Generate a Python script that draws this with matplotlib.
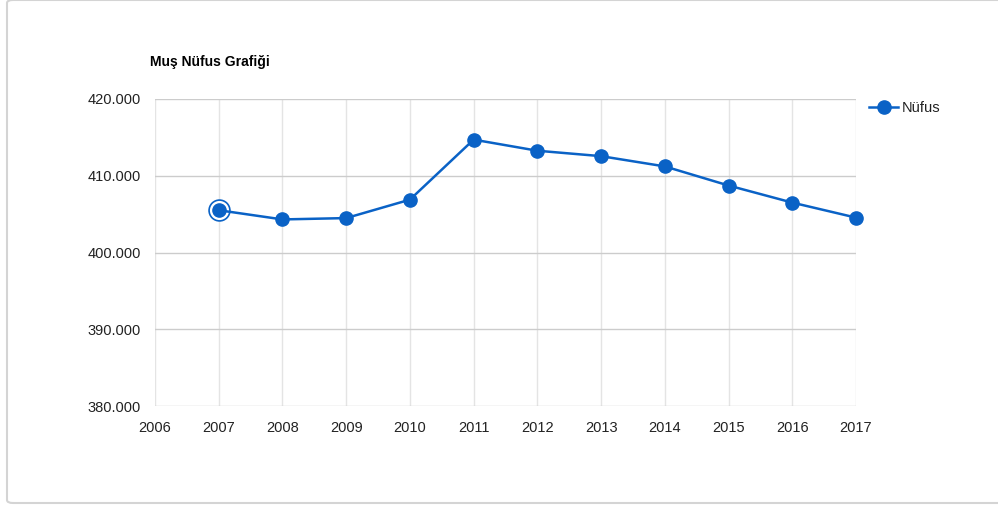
import matplotlib
matplotlib.use("Agg")
import matplotlib.pyplot as plt
from matplotlib.patches import FancyBboxPatch
from matplotlib.ticker import FuncFormatter

years = [2007, 2008, 2009, 2010, 2011, 2012, 2013, 2014, 2015, 2016, 2017]
population = [405509, 404309, 404484, 406886, 414706, 413260, 412553, 411216, 408728, 406501, 404544]
x_ticks = list(range(2006, 2018))
y_ticks = [380000, 390000, 400000, 410000, 420000]
title = "Muş Nüfus Grafiği"
series_name = "Nüfus"

blue = "#0a62c6"
plt.rcParams['font.family'] = ['Liberation Sans', 'DejaVu Sans']

fig = plt.figure(figsize=(9.98, 5.07), dpi=100)
fig.patch.set_facecolor("white")

# card background
card = FancyBboxPatch((7/998, 4/507), 1.2, 503/507, boxstyle="round,pad=0,rounding_size=0.006",
                      transform=fig.transFigure, facecolor="white", edgecolor="#d4d4d4",
                      linewidth=1.5, zorder=-10)
fig.patches.append(card)

ax = fig.add_axes([155/998, (507-406)/507, (856-155)/998, (406-99)/507])
ax.set_facecolor("none")
ax.set_zorder(5)

ax.plot(years, population, color=blue, linewidth=1.8, marker='o', markersize=9.5,
        markerfacecolor=blue, markeredgecolor=blue, zorder=3, label=series_name, clip_on=False)
# highlight ring on first point
ax.plot(years[:1], population[:1], linestyle='none', marker='o', markersize=15,
        markerfacecolor='white', markeredgecolor=blue, markeredgewidth=1.2, zorder=2.5, clip_on=False)

ax.set_xlim(x_ticks[0], x_ticks[-1])
ax.set_ylim(y_ticks[0], y_ticks[-1])
ax.set_xticks(x_ticks)
ax.set_yticks(y_ticks)
ax.yaxis.set_major_formatter(FuncFormatter(lambda v, p: f"{int(v):,}".replace(",", ".")))

for v in x_ticks:
    ax.axvline(v, color="#e4e4e4", linewidth=1, zorder=1)
for v in y_ticks:
    ax.axhline(v, color="#cccccc", linewidth=1, zorder=1)

for s in ax.spines.values():
    s.set_visible(False)
ax.tick_params(length=0, labelsize=10.5, colors="#222222")
ax.tick_params(axis='x', pad=10.5)
ax.tick_params(axis='y', pad=10)

fig.text(150/998, 1 - 62/507, title, fontsize=10, fontweight='bold', va='center', ha='left', color="#000000")

leg = ax.legend(loc='upper left', bbox_to_anchor=(0.998, 1.042), frameon=False, fontsize=10.5,
                handlelength=2.0, handletextpad=0.2, borderaxespad=0.6)
for t in leg.get_texts():
    t.set_color("#222222")

fig.savefig("out.png", dpi=100, facecolor="white")
